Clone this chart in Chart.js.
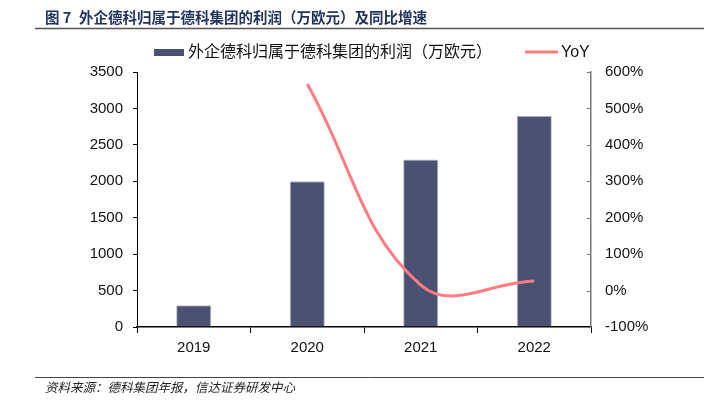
<!DOCTYPE html>
<html>
<head>
<meta charset="utf-8">
<script src="https://cdn.jsdelivr.net/npm/chart.js@4.4.1/dist/chart.umd.min.js"></script>
<style>
	html, body { margin: 0; padding: 0; background: #fff; }
	#wrap { position: relative; width: 710px; height: 409px; }
</style>
</head>
<body>
<div id="wrap"><canvas id="profit-chart" width="710" height="409"></canvas></div>
<script>
const years = ['2019', '2020', '2021', '2022'],
	profit = [300, 2000, 2300, 2900],
	yoy = [null, 5.67, 0.15, 0.26],
	profitLabel = '外企德科归属于德科集团的利润（万欧元）',
	yoyLabel = 'YoY',
	titleNo = '图 7',
	title = '外企德科归属于德科集团的利润（万欧元）及同比增速',
	source = '资料来源：德科集团年报，信达证券研发中心';

const barColor = '#4A5172',
	lineColor = '#FF7C80',
	latin = '"Liberation Sans", Arial, sans-serif',
	cjk = '"Liberation Sans", "Noto Sans CJK SC", sans-serif';

// title, source, legend and the inward ticks of the right axis
const decor = {
	id: 'decor',
	afterDraw(chart) {
		const ctx = chart.ctx;
		ctx.save();

		ctx.fillStyle = '#22335E';
		ctx.font = 'bold 14.5px "Noto Sans CJK SC", sans-serif';
		ctx.textBaseline = 'middle';
		ctx.fillText(titleNo, 45, 17);
		ctx.fillText(title, 79, 17);
		ctx.strokeStyle = '#555';
		ctx.lineWidth = 1.5;
		ctx.beginPath();
		ctx.moveTo(35, 28.5);
		ctx.lineTo(704, 28.5);
		ctx.stroke();

		ctx.strokeStyle = '#444';
		ctx.lineWidth = 1;
		ctx.beginPath();
		ctx.moveTo(35, 377.5);
		ctx.lineTo(704, 377.5);
		ctx.stroke();
		ctx.fillStyle = '#222';
		ctx.font = 'italic 12.5px "Noto Sans CJK SC", sans-serif';
		ctx.fillText(source, 45, 387);

		// legend
		ctx.fillStyle = barColor;
		ctx.fillRect(154, 49, 30, 7);
		ctx.fillStyle = '#111';
		ctx.font = '16px ' + cjk;
		ctx.fillText(profitLabel, 188, 53);
		ctx.strokeStyle = lineColor;
		ctx.lineWidth = 3;
		ctx.beginPath();
		ctx.moveTo(525, 52);
		ctx.lineTo(558, 52);
		ctx.stroke();
		ctx.fillText(yoyLabel, 561, 53);

		const right = chart.scales.y1;
		ctx.strokeStyle = '#777';
		ctx.lineWidth = 1;
		right.ticks.forEach(t => {
			const y = Math.round(right.getPixelForValue(t.value)) + 0.5;
			ctx.beginPath();
			ctx.moveTo(right.left - 4, y);
			ctx.lineTo(right.left, y);
			ctx.stroke();
		});
		ctx.restore();
	}
};

new Chart(document.getElementById('profit-chart'), {
	data: {
		labels: years,
		datasets: [{
			type: 'line',
			label: yoyLabel,
			data: yoy,
			yAxisID: 'y1',
			borderColor: lineColor,
			borderWidth: 3,
			pointRadius: 0,
			tension: 0.4,
			order: 0
		}, {
			type: 'bar',
			label: profitLabel,
			data: profit,
			yAxisID: 'y',
			backgroundColor: barColor,
			borderColor: '#B8BCCB',
			borderWidth: {left: 1, right: 1, top: 1, bottom: 0},
			categoryPercentage: 1,
			barPercentage: 0.31,
			order: 1
		}]
	},
	options: {
		responsive: false,
		animation: false,
		layout: {padding: {top: 72, left: 0, right: 0, bottom: 0}},
		plugins: {legend: {display: false}, tooltip: {enabled: false}},
		scales: {
			x: {
				offset: true,
				grid: {offset: true, drawOnChartArea: false, tickLength: 6, color: '#000'},
				border: {color: '#000', width: 1.5},
				ticks: {color: '#111', font: {family: latin, size: 15}, padding: 6},
				afterFit(scale) { scale.height = 82; }
			},
			y: {
				position: 'left',
				min: 0,
				max: 3500,
				ticks: {
					stepSize: 500,
					color: '#111',
					font: {family: latin, size: 15},
					padding: 10,
					callback: v => String(v)
				},
				grid: {drawOnChartArea: false, tickLength: 4, color: '#000'},
				border: {color: '#000', width: 1},
				afterFit(scale) { scale.width = 137; }
			},
			y1: {
				position: 'right',
				min: -1,
				max: 6,
				ticks: {
					stepSize: 1,
					color: '#111',
					font: {family: latin, size: 15},
					padding: 14,
					callback: v => Math.round(v * 100) + '%'
				},
				grid: {drawOnChartArea: false, drawTicks: false},
				border: {color: '#777', width: 1.5},
				afterFit(scale) { scale.width = 119; }
			}
		}
	},
	plugins: [decor]
});
</script>
</body>
</html>
